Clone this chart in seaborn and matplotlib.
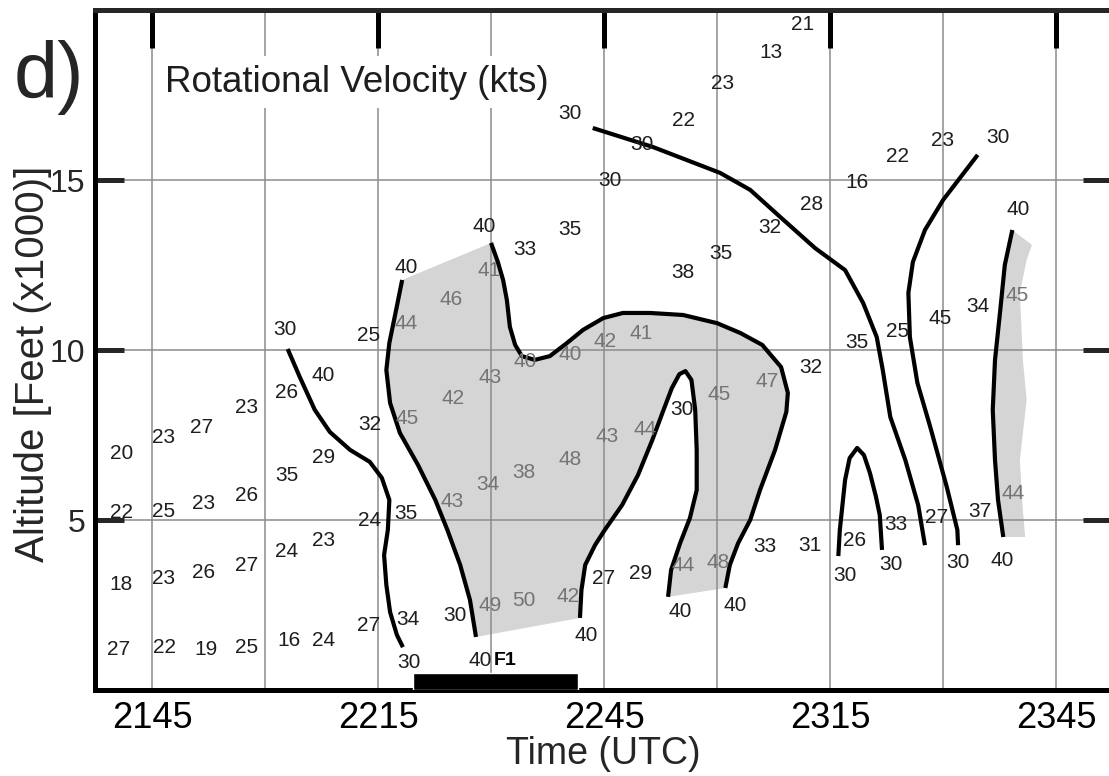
import pandas as pd
import matplotlib
matplotlib.use("Agg")
import matplotlib.pyplot as plt
import seaborn as sns

# time = minutes after 2100 UTC, alt = thousands of feet

# 30 kt contour on the left
e_time = [63.0, 64.6, 66.6, 68.6, 71.3, 73.9, 75.5, 76.5, 76.3, 75.8, 76.1, 76.6, 77.5, 78.3]
e_alt = [10.03, 9.21, 8.24, 7.59, 7.06, 6.71, 6.24, 5.59, 4.71, 3.97, 3.09, 2.29, 1.62, 1.26]

# 30 kt contour, upper right
a_time = [103.5, 111.5, 120.4, 124.4, 128.4, 133.0, 137.0, 139.4, 141.2, 142.0, 143.0, 145.0, 146.7, 147.6]
a_alt = [16.53, 15.97, 15.21, 14.71, 13.91, 13.0, 12.35, 11.38, 10.38, 9.41, 8.03, 6.76, 5.44, 4.26]

b_time = [154.6, 150.0, 147.6, 146.0, 145.4, 145.6, 146.6, 148.3, 150.5, 151.9, 152.0]
b_alt = [15.74, 14.41, 13.53, 12.59, 11.68, 10.38, 9.03, 7.74, 5.97, 4.71, 4.26]

c_time = [136.1, 136.3, 137.0, 137.6, 138.6, 139.5, 140.3, 141.1, 141.6, 141.9]
c_alt = [3.94, 4.71, 6.18, 6.82, 7.12, 6.91, 6.38, 5.68, 5.15, 4.12]

# 40 kt contour on the far right + its shaded band
d_time = [159.2, 158.2, 157.6, 156.9, 156.6, 156.9, 157.3, 158.0]
d_alt = [13.53, 12.50, 11.18, 9.71, 8.24, 6.76, 5.59, 4.50]
d_edge_time = [160.9, 160.6, 160.2, 161.1, 160.6, 160.2, 161.1, 161.8]
d_edge_alt = [4.50, 5.29, 6.76, 8.53, 9.71, 11.68, 12.65, 13.09]

# 40 kt contour around the big shaded area: west edge, arch, east edge
g_time = [78.2, 77.4, 76.5, 76.1, 76.6, 77.9, 80.3, 82.6, 84.2, 85.9, 87.2, 88.0]
g_alt = [12.06, 11.18, 10.21, 9.41, 8.44, 7.56, 6.62, 5.59, 4.71, 3.68, 2.65, 1.56]

h_time = [101.8, 102.0, 102.5, 103.8, 105.1, 107.4, 109.5, 111.4, 112.8, 114.0, 115.0, 115.8,
          116.6, 117.1, 117.3, 117.3, 116.4, 115.1, 113.9, 113.5]
h_alt = [2.12, 2.94, 3.68, 4.26, 4.71, 5.44, 6.32, 7.35, 8.18, 8.88, 9.29, 9.38,
         9.12, 8.24, 7.06, 5.88, 5.06, 4.32, 3.53, 2.74]

k_time = [121.1, 121.7, 122.8, 124.4, 125.7, 127.7, 129.2, 129.4, 128.5, 126.0, 123.1, 120.0,
          115.5, 111.1, 107.5, 104.9, 102.2, 100.1, 97.8, 95.8, 94.1, 93.2, 92.5, 92.1,
          91.6, 90.9, 90.0]
k_alt = [3.0, 3.68, 4.32, 5.0, 5.88, 7.06, 8.18, 8.74, 9.50, 10.15, 10.50, 10.79,
         11.03, 11.09, 11.09, 10.94, 10.59, 10.21, 9.82, 9.71, 9.82, 10.15, 10.68, 11.47,
         12.06, 12.59, 13.15]

# velocity readings outside the shading
black_time = [40.9, 40.9, 40.9, 40.5, 46.5, 46.5, 46.5, 46.7, 51.6, 51.8, 51.8, 52.2,
              57.6, 57.6, 57.5, 57.5, 62.7, 62.8, 62.9, 62.9, 63.2, 67.7, 67.8, 67.8, 67.8,
              73.7, 73.9, 73.9, 73.7, 78.7, 78.7, 79.0, 79.1, 85.2, 88.5,
              89.1, 94.5, 100.5, 100.5, 110.0, 105.8, 115.6, 120.7, 127.2, 131.3,
              115.5, 120.5, 127.0, 132.5, 138.6, 144.0, 149.9, 157.3, 160.0,
              154.6, 149.6, 144.0, 138.5, 132.5, 154.9, 149.2, 143.8, 138.3, 132.3, 126.4,
              137.0, 143.1, 152.0, 157.9, 105.0, 109.9, 102.6, 115.1, 122.4, 115.3]
black_alt = [6.97, 5.21, 3.09, 1.18, 7.44, 5.24, 3.29, 1.26, 7.71, 5.5, 3.47, 1.18,
             8.32, 5.71, 3.65, 1.26, 10.59, 8.74, 6.32, 4.06, 1.47, 9.26, 6.85, 4.41, 1.47,
             10.44, 7.82, 5.0, 1.91, 12.44, 5.18, 2.06, 0.82, 2.18, 0.88,
             13.62, 12.97, 13.53, 16.97, 16.03, 15.0, 16.74, 17.85, 18.74, 19.56,
             12.29, 12.85, 13.59, 14.29, 14.94, 15.68, 16.15, 16.26, 14.12,
             11.29, 10.94, 10.53, 10.21, 9.5, 5.24, 5.06, 4.88, 4.41, 4.26, 4.21,
             3.38, 3.68, 3.74, 3.82, 3.29, 3.44, 1.59, 2.32, 2.5, 8.24]
black_vals = [20, 22, 18, 27, 23, 25, 23, 22, 27, 23, 26, 19,
              23, 26, 27, 25, 30, 26, 35, 24, 16, 40, 29, 23, 24,
              25, 32, 24, 27, 40, 35, 34, 30, 30, 40,
              40, 33, 35, 30, 30, 30, 22, 23, 13, 21,
              38, 35, 32, 28, 16, 22, 23, 30, 40,
              34, 45, 25, 35, 32, 37, 27, 33, 26, 31, 33,
              30, 30, 30, 40, 27, 29, 40, 40, 40, 30]

# readings inside the >40 kt shading
gray_time = [89.7, 84.7, 78.7, 89.9, 94.5, 100.5, 105.1, 109.9, 85.0, 78.8, 120.3, 126.6,
             105.4, 110.4, 100.5, 94.4, 89.6, 84.8, 89.9, 94.4, 100.2, 115.5, 120.1, 159.8, 159.3]
gray_alt = [12.35, 11.5, 10.79, 9.18, 9.65, 9.88, 10.24, 10.5, 8.56, 8.0, 8.68, 9.06,
            7.47, 7.65, 6.79, 6.41, 6.03, 5.53, 2.5, 2.62, 2.74, 3.65, 3.76, 11.59, 5.79]
gray_vals = [41, 46, 44, 43, 40, 40, 42, 41, 42, 45, 45, 47,
             43, 44, 48, 38, 34, 43, 49, 50, 42, 44, 48, 45, 44]

# F1 damage period
f1_start, f1_end = 79.6, 101.5

tick_pos = [45, 75, 105, 135, 165]
tick_lab = ['2145', '2215', '2245', '2315', '2345']
minor_pos = [60, 90, 120, 150]

sns.set_style("white")
plt.rcParams['font.family'] = ['Liberation Sans', 'DejaVu Sans']

lines = pd.concat([
    pd.DataFrame({'time': t, 'alt': a, 'line': name})
    for name, t, a in [('e', e_time, e_alt), ('a', a_time, a_alt), ('b', b_time, b_alt),
                       ('c', c_time, c_alt), ('d', d_time, d_alt), ('g', g_time, g_alt),
                       ('h', h_time, h_alt), ('k', k_time, k_alt)]
], ignore_index=True)
black = pd.DataFrame({'time': black_time, 'alt': black_alt, 'v': black_vals})
gray = pd.DataFrame({'time': gray_time, 'alt': gray_alt, 'v': gray_vals})

fig = plt.figure(figsize=(11.09, 7.76), dpi=100)
ax = fig.add_axes([0.0857, 0.1108, 0.9170, 0.8763])

shade = '#d5d5d5'
ax.fill(g_time + h_time + k_time, g_alt + h_alt + k_alt, color=shade, lw=0, zorder=0.3)
ax.fill(d_time + d_edge_time, d_alt + d_edge_alt, color=shade, lw=0, zorder=0.3)

sns.lineplot(data=lines, x='time', y='alt', units='line', estimator=None, sort=False,
             color='black', lw=3.0, ax=ax, zorder=2)
for l in ax.lines:
    l.set_solid_joinstyle('round')
    l.set_solid_capstyle('butt')

for _, r in black.iterrows():
    ax.text(r['time'], r['alt'], str(int(r['v'])), ha='center', va='center',
            fontsize=15, color='#1e1e1e', zorder=3)
for _, r in gray.iterrows():
    ax.text(r['time'], r['alt'], str(int(r['v'])), ha='center', va='center',
            fontsize=15, color='#747474', zorder=3)

ax.bar((f1_start + f1_end) / 2, 0.5, width=f1_end - f1_start, bottom=0,
       color='black', zorder=3)
ax.text(91.9, 0.88, 'F1', ha='center', va='center', fontsize=14,
        fontweight='bold', color='black', zorder=3)

ax.text(0.2576, 0.894, 'Rotational Velocity (kts)', transform=ax.transAxes,
        ha='center', va='center', fontsize=26.5, color='#1e1e1e', zorder=4,
        bbox=dict(facecolor='white', edgecolor='none', pad=6))

ax.set_xlim(37.43, 172.43)
ax.set_ylim(0, 20)
ax.set_xticks(tick_pos, tick_lab)
ax.set_xticks(minor_pos, minor=True)
ax.set_yticks([5, 10, 15])
ax.tick_params(axis='x', which='major', direction='in', length=19, width=3.6,
               labelsize=26, pad=8, top=False, colors='black')
ax.tick_params(axis='x', which='minor', direction='in', length=12, width=3.6, top=False)
ax.tick_params(axis='y', direction='in', length=21, width=3.6, labelsize=23, pad=7,
               left=True, right=True)

ax.set_axisbelow(True)
ax.grid(True, which='both', axis='x', color='#8c8c8c', lw=1.1)
ax.grid(True, which='major', axis='y', color='#8c8c8c', lw=1.1)

top = ax.secondary_xaxis('top')
top.set_zorder(5)
top.set_xticks(tick_pos)
top.tick_params(direction='in', length=27, width=3.6, labeltop=False, color='black')
top.spines['top'].set_linewidth(3.6)

for s in ax.spines.values():
    s.set_linewidth(3.6)
    s.set_color('black')

ax.set_xlabel('Time (UTC)', fontsize=27)
ax.xaxis.set_label_coords(0.4995, -0.068)
ax.set_ylabel('Altitude [Feet (x1000)]', fontsize=29)
ax.yaxis.set_label_coords(-0.042, 0.479)

fig.text(0.012, 0.9, 'd)', fontsize=57, ha='left', va='center')

fig.savefig('out.png', dpi=100)
